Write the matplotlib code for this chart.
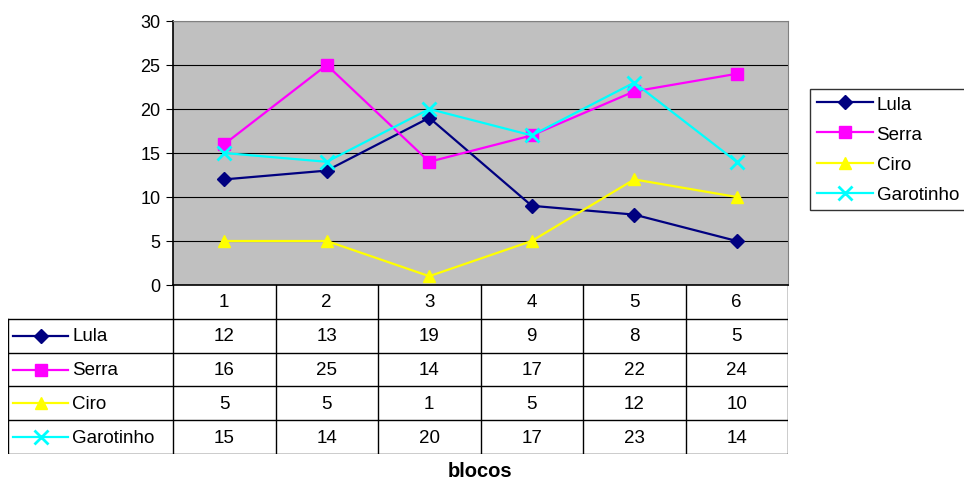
import matplotlib.pyplot as plt
from matplotlib.lines import Line2D

plt.rcParams['font.family'] = ['Liberation Sans', 'DejaVu Sans']

blocos = [1, 2, 3, 4, 5, 6]
names = ["Lula", "Serra", "Ciro", "Garotinho"]
lula = [12, 13, 19, 9, 8, 5]
serra = [16, 25, 14, 17, 22, 24]
ciro = [5, 5, 1, 5, 12, 10]
garotinho = [15, 14, 20, 17, 23, 14]

series = [lula, serra, ciro, garotinho]
colors = ["#000080", "#FF00FF", "#FFFF00", "#00FFFF"]
markers = ["D", "s", "^", "x"]
msizes = [7, 9, 9, 10]

FS = 13.5
W, H = 964, 481
fig = plt.figure(figsize=(W / 100, H / 100), dpi=100)

# plot area in pixels
x0, x1, y_top, y_bot = 173, 788, 22, 286
ax = fig.add_axes([x0 / W, 1 - y_bot / H, (x1 - x0) / W, (y_bot - y_top) / H])
ax.set_facecolor("#C0C0C0")
ax.set_xlim(0.5, 6.5)
ax.set_ylim(0, 30)
ax.set_yticks(range(0, 31, 5))
ax.set_xticks([])
ax.yaxis.grid(True, color="black", linewidth=0.8)
ax.set_axisbelow(True)
for s in ["top", "right"]:
    ax.spines[s].set_color("#808080")
ax.spines["left"].set_linewidth(1.2)
ax.spines["bottom"].set_linewidth(1.2)
ax.tick_params(axis="y", labelsize=13, length=5, direction="out", pad=4)

handles = []
for name, vals, c, m, ms in zip(names, series, colors, markers, msizes):
    mew = 2 if m == "x" else 1
    h, = ax.plot(blocos, vals, color=c, marker=m, markersize=ms, linewidth=1.6,
                 markeredgewidth=mew, label=name, clip_on=False)
    handles.append(h)

leg = fig.legend(handles=handles, loc="upper left",
                 bbox_to_anchor=(810 / W, 1 - 90 / H), fontsize=FS,
                 frameon=True, fancybox=False, handlelength=3.0,
                 labelspacing=0.7, borderaxespad=0, borderpad=0.35,
                 handletextpad=0.2)
leg.get_frame().set_edgecolor("black")
leg.get_frame().set_linewidth(1.0)

# data table below the plot
t_left, t_bot = 8, 455
per_unit = (x1 - x0) / 6.0
xmin = 0.5 - (x0 - t_left) / per_unit
tab = fig.add_axes([t_left / W, 1 - t_bot / H, (x1 - t_left) / W, (t_bot - y_bot) / H])
tab.set_xlim(xmin, 6.5)
tab.set_ylim(0, 5)
tab.axis("off")

lw = 1.0
# vertical lines
for xv in [0.5 + i for i in range(7)]:
    tab.plot([xv, xv], [0, 5], color="black", linewidth=lw)
tab.plot([xmin, xmin], [0, 4], color="black", linewidth=lw)
# horizontal lines
for yv in range(0, 5):
    tab.plot([xmin, 6.5], [yv, yv], color="black", linewidth=lw)

for b in blocos:
    tab.text(b, 4.5, str(b), ha="center", va="center", fontsize=FS)

for r, (name, vals, c, m, ms) in enumerate(zip(names, series, colors, markers, msizes)):
    yc = 3.5 - r
    kx0 = xmin + 5 / per_unit
    kx1 = xmin + 60 / per_unit
    tab.add_line(Line2D([kx0, kx1], [yc, yc], color=c, linewidth=1.6))
    mew = 2 if m == "x" else 1
    tab.plot([(kx0 + kx1) / 2], [yc], marker=m, color=c, markersize=ms,
             markeredgewidth=mew, linestyle="none")
    tab.text(kx1 + 4 / per_unit, yc, name, ha="left", va="center", fontsize=FS)
    for b, v in zip(blocos, vals):
        tab.text(b, yc, str(v), ha="center", va="center", fontsize=FS)

fig.text(480 / W, 1 - 472 / H, "blocos", ha="center", va="center",
         fontsize=14.5, fontweight="bold")

fig.savefig("out.png", dpi=100)
